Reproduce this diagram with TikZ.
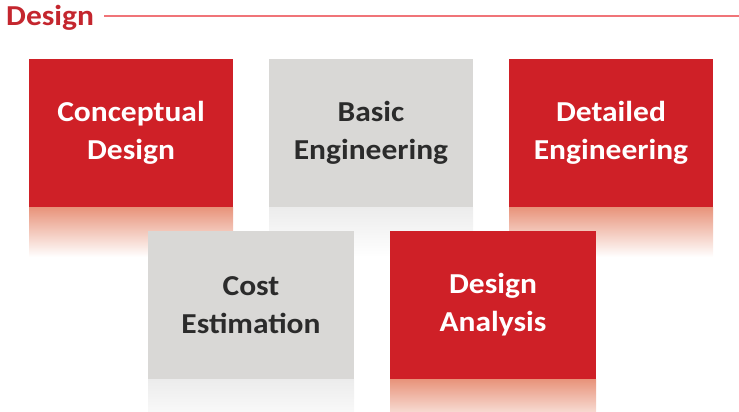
\documentclass[tikz,border=0pt]{standalone}
\usepackage{fontspec}
\setmainfont[FakeStretch=1.09]{Carlito}
\usetikzlibrary{calc}
\definecolor{boxred}{HTML}{CF2027}
\definecolor{boxgray}{HTML}{D9D8D6}
\definecolor{titlered}{HTML}{C4262E}
\definecolor{rulered}{HTML}{F07478}
\definecolor{glowred}{HTML}{E8937A}
\definecolor{glowgray}{HTML}{ECECEC}
\definecolor{textgray}{HTML}{2B2B2B}
\tikzset{
	redbox/.style={fill=boxred, text=white, minimum width=204bp, minimum height=148bp, inner sep=0pt, align=center, font=\bfseries\fontsize{29}{38}\selectfont},
	graybox/.style={redbox, fill=boxgray, text=textgray},
}

\begin{document}
\begin{tikzpicture}[x=1bp, y=-1bp]
			%%%%% START %%%%%
			
			\useasboundingbox (0, 0) rectangle (739, 411);
			
			\node[anchor=base west, inner sep=0pt, text=titlered, font=\bfseries\fontsize{29}{30}\selectfont] (title) at (6, 25) {Design};
			\coordinate (ruleend) at (739, 16);
			\draw[rulered, line width=1.5bp] ([xshift=10bp]title.east |- ruleend) -- (ruleend);
			
			\shade[top color=glowred, middle color=glowred!40!white, bottom color=white] (29, 207) rectangle (233, 257);
			\shade[top color=glowgray, bottom color=white] (269, 207) rectangle (473, 257);
			\shade[top color=glowred, middle color=glowred!40!white, bottom color=white] (509, 207) rectangle (713, 257);
			
			\node[redbox] (concept) at (131, 133) {Conceptual\\Design};
			\node[graybox] (basic) at (371, 133) {Basic\\Engineering};
			\node[redbox] (detail) at (611, 133) {Detailed\\Engineering};
			
			\shade[top color=glowgray, bottom color=white] (148, 379) rectangle (354, 429);
			\shade[top color=glowred, middle color=glowred!40!white, bottom color=white] (390, 379) rectangle (596, 429);
			
			\node[graybox, minimum width=206bp] (cost) at (251, 305) {Cost\\Estimation};
			\node[redbox, minimum width=206bp] (analysis) at (493, 305) {Design\\Analysis};
			
			%%%%% END %%%%%
\end{tikzpicture}
\end{document}
